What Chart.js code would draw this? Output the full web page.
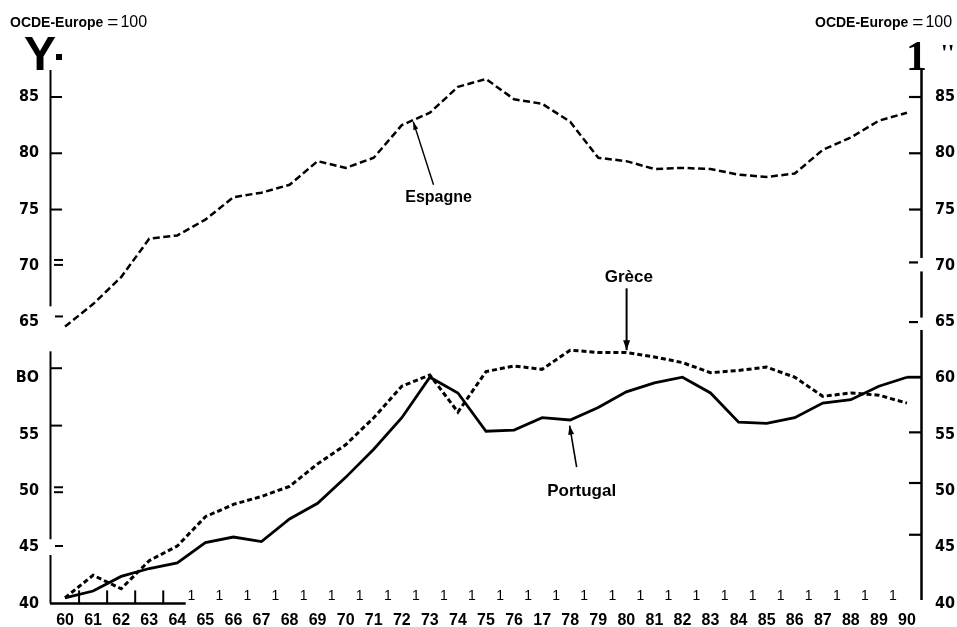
<!DOCTYPE html>
<html><head><meta charset="utf-8">
<script src="https://cdn.jsdelivr.net/npm/chart.js@4"></script>
<style>html,body{margin:0;padding:0;background:#fff;overflow:hidden}canvas{display:block}</style>
</head><body>
<canvas id="c" width="957" height="627"></canvas>
<script>
// ---- data ----
const years = ['60','61','62','63','64','65','66','67','68','69','70','71','72','73','74','75','76','77','78','79','80','81','82','83','84','85','86','87','88','89','90'];
const xTickLabels = ['60','61','62','63','64','65','66','67','68','69','70','71','72','73','74','75','76','17','78','79','80','81','82','83','84','85','86','87','88','89','90'];
const espagne = [64.6, 66.6, 69.0, 72.4, 72.7, 74.1, 76.1, 76.5, 77.2, 79.3, 78.7, 79.6, 82.5, 83.6, 85.9, 86.6, 84.8, 84.4, 82.8, 79.6, 79.3, 78.6, 78.7, 78.6, 78.1, 77.9, 78.2, 80.3, 81.4, 82.9, 83.6];
const grece = [40.5, 42.5, 41.3, 43.8, 45.1, 47.7, 48.8, 49.5, 50.4, 52.4, 54.1, 56.5, 59.3, 60.3, 57.0, 60.6, 61.1, 60.8, 62.5, 62.3, 62.3, 61.9, 61.4, 60.5, 60.7, 61.0, 60.1, 58.4, 58.7, 58.5, 57.8];
const portugal = [40.5, 41.1, 42.4, 43.1, 43.6, 45.4, 45.9, 45.5, 47.5, 48.9, 51.2, 53.7, 56.5, 60.1, 58.7, 55.3, 55.4, 56.5, 56.3, 57.4, 58.8, 59.6, 60.1, 58.7, 56.1, 56.0, 56.5, 57.8, 58.1, 59.3, 60.1];
const yTickValues = [40, 45, 50, 55, 60, 65, 70, 75, 80, 85];
const leftTickLabels = ['40', '45', '50', '55', 'BO', '65', '70', '75', '80', '85'];
const rightTickLabels = ['40', '45', '50', '55', '60', '65', '70', '75', '80', '85'];
const unitName = 'OCDE-Europe';
const unitValue = '100';
const seriesNames = ['Espagne', 'Grèce', 'Portugal'];

// ---- fonts ----
const SANS = "'Liberation Sans', Arial, sans-serif";
const NARROW = "'Liberation Sans Narrow', 'DejaVu Sans Condensed', 'Liberation Sans', sans-serif";
const SERIF = "'Liberation Serif', 'Times New Roman', serif";

function arrow(ctx, x0, y0, x1, y1, head, w) {
  ctx.beginPath(); ctx.moveTo(x0, y0); ctx.lineTo(x1, y1); ctx.stroke();
  const a = Math.atan2(y1 - y0, x1 - x0);
  ctx.beginPath();
  ctx.moveTo(x1, y1);
  ctx.lineTo(x1 - head * Math.cos(a) + w * Math.sin(a), y1 - head * Math.sin(a) - w * Math.cos(a));
  ctx.lineTo(x1 - head * Math.cos(a) - w * Math.sin(a), y1 - head * Math.sin(a) + w * Math.cos(a));
  ctx.closePath(); ctx.fill();
}

const decor = {
  id: 'decor',
  afterDraw(chart) {
    const { ctx, chartArea: a, scales: { x, y } } = chart;
    const px = i => x.getPixelForValue(i);
    const py = v => y.getPixelForValue(v);
    const hline = (x0, x1, v) => { ctx.beginPath(); ctx.moveTo(x0, py(v)); ctx.lineTo(x1, py(v)); ctx.stroke(); };
    ctx.save();
    ctx.strokeStyle = '#000';
    ctx.fillStyle = '#000';
    ctx.lineCap = 'butt';

    // Portugal continues flat to right axis
    ctx.lineWidth = 2.8;
    hline(px(portugal.length - 1), a.right, portugal[portugal.length - 1]);

    // left axis with breaks
    const segL = [[87.4, 66.4], [62.4, 45.7], [44.3, 40]];
    ctx.lineWidth = 2;
    segL.forEach(([v0, v1]) => { ctx.beginPath(); ctx.moveTo(a.left - 0.5, py(v0)); ctx.lineTo(a.left - 0.5, py(v1)); ctx.stroke(); });
    // left inward ticks (as scanned, slightly offset)
    [85, 80, 75, 60.9, 55.8].forEach(v => hline(a.left, a.left + 11, v));
    [65.5, 45.1].forEach(v => hline(a.left + 4, a.left + 12, v));
    [70.3, 50.1].forEach(v => { hline(a.left + 3, a.left + 12, v + 0.22); hline(a.left + 3, a.left + 12, v - 0.22); });

    // right axis with breaks
    const segR = [[87.4, 70.7], [69.5, 65.4], [64.3, 40.3]];
    ctx.lineWidth = 2.5;
    segR.forEach(([v0, v1]) => { ctx.beginPath(); ctx.moveTo(a.right + 0.5, py(v0)); ctx.lineTo(a.right + 0.5, py(v1)); ctx.stroke(); });
    ctx.lineWidth = 2.2;
    [85, 80, 75, 55.2, 50.7, 46.1].forEach(v => hline(a.right - 12, a.right, v));
    [70.3, 65.0].forEach(v => hline(a.right - 12, a.right - 3, v));

    // bottom short axis + ticks
    ctx.lineWidth = 2.5;
    ctx.beginPath(); ctx.moveTo(a.left - 1, a.bottom); ctx.lineTo(px(4.3), a.bottom); ctx.stroke();
    ctx.lineWidth = 2;
    for (let i = 0; i < 4; i++) {
      ctx.beginPath(); ctx.moveTo(px(i + 0.5), a.bottom); ctx.lineTo(px(i + 0.5), a.bottom - 13); ctx.stroke();
    }
    ctx.font = '14px ' + SANS;
    ctx.textAlign = 'center';
    ctx.textBaseline = 'alphabetic';
    for (let i = 4; i < years.length - 1; i++) {
      ctx.fillText('1', px(i + 0.5), a.bottom - 3);
    }

    // titles
    ctx.textAlign = 'left';
    const title = (x0) => {
      ctx.font = 'bold 14px ' + SANS;
      ctx.fillText(unitName, x0, 27);
      const w = ctx.measureText(unitName).width;
      ctx.font = '19px ' + SANS;
      ctx.fillText('=', x0 + w + 4, 28);
      const w2 = ctx.measureText('=').width;
      ctx.font = '16px ' + SANS;
      ctx.fillText(unitValue, x0 + w + w2 + 6, 27);
    };
    title(10);
    title(815);

    // scan glyphs
    ctx.font = 'bold 48px ' + SANS;
    ctx.fillText('Y', 24, 70);
    ctx.fillRect(56, 54, 6, 6);
    ctx.font = 'bold 42px ' + SERIF;
    ctx.fillText('1', 906, 70);
    ctx.font = 'bold 24px ' + SERIF;
    ctx.fillText("''", 941, 60);

    // annotations (data coordinates)
    ctx.textAlign = 'center';
    ctx.font = 'bold 16px ' + SANS;
    ctx.fillText(seriesNames[0], px(13.31), py(75.67));
    ctx.font = 'bold 17px ' + SANS;
    ctx.fillText(seriesNames[1], px(20.09), py(68.57));
    ctx.fillText(seriesNames[2], px(18.41), py(49.58));

    ctx.lineWidth = 1.4;
    arrow(ctx, px(13.13), py(77.2), px(12.41), py(82.8), 8, 2.5);
    ctx.lineWidth = 2;
    arrow(ctx, px(20.01), py(68.0), px(20.01), py(62.5), 10, 3.5);
    ctx.lineWidth = 1.6;
    arrow(ctx, px(18.23), py(52.1), px(17.98), py(55.8), 9, 3);

    ctx.restore();
  }
};

const yTickFont = { family: NARROW, weight: 'bold', size: 16 };

new Chart(document.getElementById('c'), {
  type: 'line',
  data: {
    labels: years,
    datasets: [
      { label: seriesNames[0], data: espagne, yAxisID: 'y', borderColor: '#000', borderWidth: 2.5, borderDash: [7, 3.5], pointRadius: 0, tension: 0, fill: false },
      { label: seriesNames[1], data: grece, yAxisID: 'y', borderColor: '#000', borderWidth: 3, borderDash: [5, 3], pointRadius: 0, tension: 0, fill: false },
      { label: seriesNames[2], data: portugal, yAxisID: 'y', borderColor: '#000', borderWidth: 2.8, pointRadius: 0, tension: 0, fill: false }
    ]
  },
  options: {
    responsive: false,
    animation: false,
    devicePixelRatio: 1,
    layout: { padding: { top: 70, left: 0, right: 0, bottom: 0 } },
    plugins: { legend: { display: false }, tooltip: { enabled: false }, title: { display: false } },
    scales: {
      x: {
        type: 'category', offset: true,
        grid: { display: false, drawTicks: false }, border: { display: false },
        ticks: { autoSkip: false, maxRotation: 0, minRotation: 0, padding: 8, color: '#000',
          font: { family: SANS, weight: 'bold', size: 16 },
          callback: (v, i) => xTickLabels[i] },
        afterFit(s) { s.height = 23; }
      },
      y: {
        position: 'left', min: 40, max: 87.4,
        grid: { display: false, drawTicks: false }, border: { display: false },
        afterBuildTicks(s) { s.ticks = yTickValues.map(v => ({ value: v })); },
        ticks: { padding: 12, color: '#000', font: yTickFont,
          callback: v => leftTickLabels[yTickValues.indexOf(v)] },
        afterFit(s) { s.width = 51; }
      },
      y2: {
        position: 'right', min: 40, max: 87.4,
        grid: { display: false, drawTicks: false }, border: { display: false },
        afterBuildTicks(s) { s.ticks = yTickValues.map(v => ({ value: v })); },
        ticks: { padding: 14, color: '#000', font: yTickFont,
          callback: v => rightTickLabels[yTickValues.indexOf(v)] },
        afterFit(s) { s.width = 36; }
      }
    }
  },
  plugins: [decor]
});
</script>
</body></html>
